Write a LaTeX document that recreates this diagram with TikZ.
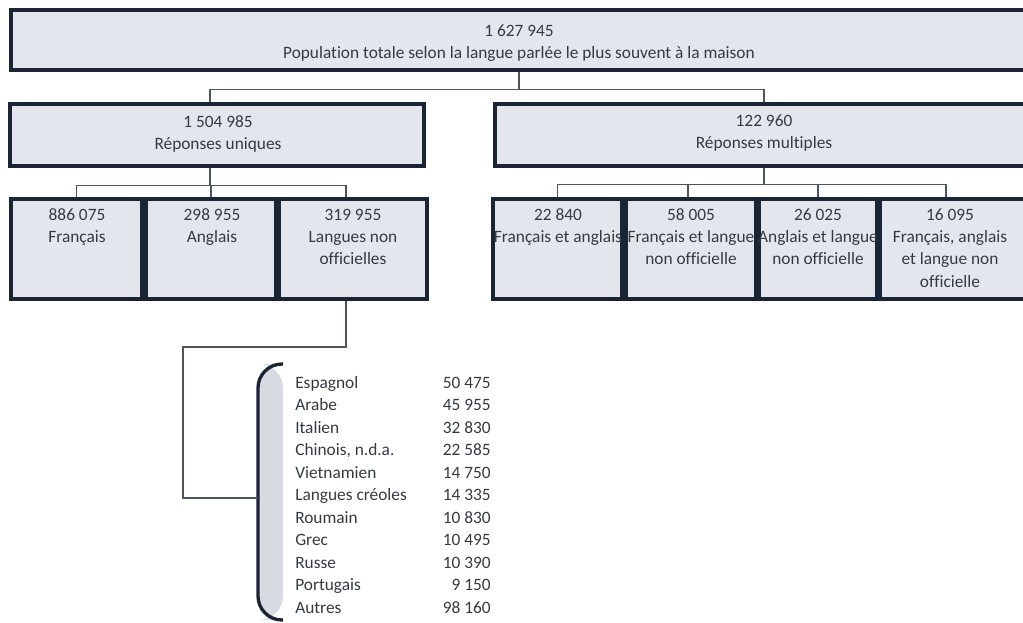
\documentclass[tikz,border=0pt]{standalone}
\usepackage{fontspec}
\setmainfont{Carlito}[Ligatures={NoCommon}]
\usetikzlibrary{fit}
\definecolor{boxline}{HTML}{1B2434}
\definecolor{boxfill}{HTML}{E3E7ED}
\definecolor{connline}{HTML}{4D5563}
\definecolor{txtcol}{HTML}{353A42}
\definecolor{brkfill}{HTML}{D8DCE2}
\begin{document}
\begin{tikzpicture}[x=0.75pt,y=-0.75pt,
  box/.style={draw=boxline,line width=2.7pt,fill=boxfill,inner sep=0pt},
  conn/.style={draw=connline,line width=0.9pt},
  txt/.style={text=txtcol,font=\fontsize{13}{15}\selectfont,inner sep=0pt,anchor=base},
  lname/.style={txt,anchor=base west},
  lnum/.style={txt,anchor=base east}]
\useasboundingbox (0,0) rectangle (1023,623);
\clip (0,0) rectangle (1023,623);
% boxes
\node[box,fit={(11,10) (1027,70)}] (top) {};
\node[box,fit={(10,104) (424,166)}] (uniq) {};
\node[box,fit={(495,104) (1033,166)}] (mult) {};
\node[box,fit={(11,199) (142,299)}] (fr) {};
\node[box,fit={(146,199) (276,299)}] (an) {};
\node[box,fit={(279,199) (427,299)}] (lno) {};
\node[box,fit={(493,199) (622,299)}] (fa) {};
\node[box,fit={(626,199) (756,299)}] (fl) {};
\node[box,fit={(759,199) (877,299)}] (al) {};
\node[box,fit={(880,199) (1028,299)}] (fal) {};
% texts
\node[txt] at (519,37) {1 627 945};
\node[txt] at (519,59) {Population totale selon la langue parlée le plus souvent à la maison};
\node[txt] at (218,128) {1 504 985};
\node[txt] at (218,150) {Réponses uniques};
\node[txt] at (764,127) {122 960};
\node[txt] at (764,149) {Réponses multiples};
\node[txt] at (77,221) {886 075};
\node[txt] at (77,243) {Français};
\node[txt] at (212,221) {298 955};
\node[txt] at (212,243) {Anglais};
\node[txt] at (353,221) {319 955};
\node[txt] at (353,243) {Langues non};
\node[txt] at (353,265) {officielles};
\node[txt] at (558,221) {22 840};
\node[txt] at (558,243) {Français et anglais};
\node[txt] at (691,221) {58 005};
\node[txt] at (691,243) {Français et langue};
\node[txt] at (691,265) {non officielle};
\node[txt] at (818,221) {26 025};
\node[txt] at (818,243) {Anglais et langue};
\node[txt] at (818,265) {non officielle};
\node[txt] at (950,221) {16 095};
\node[txt] at (950,243) {Français, anglais};
\node[txt] at (950,265) {et langue non};
\node[txt] at (950,287) {officielle};
% connectors
\draw[conn] (top.south) -- ++(0,18) -| ([xshift=-5.25pt]uniq.north);
\draw[conn] (top.south) -- ++(0,18) -| (mult.north);
\draw[conn] ([xshift=-5.25pt]uniq.south) -- ++(0,18) -| (fr.north);
\draw[conn] ([xshift=-5.25pt]uniq.south) -- ++(0,18) -| (an.north);
\draw[conn] ([xshift=-5.25pt]uniq.south) -- ++(0,18) -| ([xshift=-5.25pt]lno.north);
\draw[conn] (mult.south) -- ++(0,17) -| (fa.north);
\draw[conn] (mult.south) -- ++(0,17) -| ([xshift=-2.25pt]fl.north);
\draw[conn] (mult.south) -- ++(0,17) -| (al.north);
\draw[conn] (mult.south) -- ++(0,17) -| ([xshift=-6pt]fal.north);
% bracket
\fill[brkfill,rounded corners=18pt] (283,364) -- (258,364) -- (258,620) -- (283,620) -- cycle;
\draw[boxline,line width=2.5pt,rounded corners=18pt] (283,364) -- (258,364) -- (258,620) -- (283,620);
\coordinate (brk) at (258,498);
\coordinate (elbow) at (183,347);
\draw[conn] ([xshift=-5.25pt]lno.south) |- (elbow) |- (brk);
% list
\foreach \n/\v [count=\i from 0] in {Espagnol/50 475,Arabe/45 955,Italien/32 830,Chinois{,} n.d.a./22 585,Vietnamien/14 750,Langues créoles/14 335,Roumain/10 830,Grec/10 495,Russe/10 390,Portugais/9 150,Autres/98 160}{
  \node[lname] (ln\i) at (295,388+22.5*\i) {\n};
  \node[lnum] (lv\i) at (491,388+22.5*\i) {\v};
}
\end{tikzpicture}
\end{document}
